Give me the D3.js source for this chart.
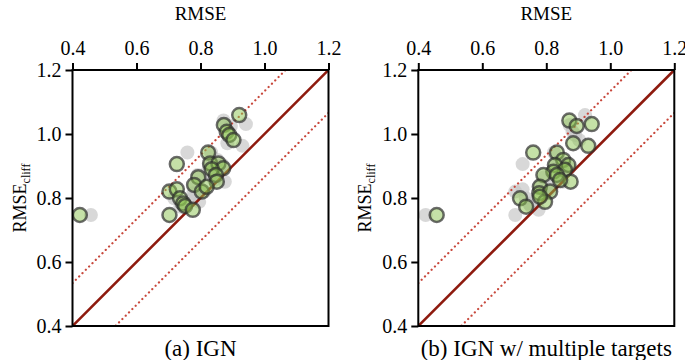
<!DOCTYPE html>
<html>
<head>
<meta charset="utf-8">
<script src="https://cdn.jsdelivr.net/npm/d3@7"></script>
<style>
  body { margin: 0; background: #fff; }
  svg, svg text { font-family: "Liberation Serif", "Times New Roman", serif; }
</style>
</head>
<body>
<script>
// RMSE vs RMSE_cliff, one [rmse, rmseCliff] pair per target
const ignPoints = [
  [0.921, 1.059], [0.873, 1.028], [0.882, 1.007], [0.890, 0.997], [0.903, 0.981],
  [0.824, 0.942], [0.726, 0.906], [0.830, 0.908], [0.856, 0.908], [0.871, 0.893],
  [0.835, 0.890], [0.848, 0.872], [0.793, 0.865], [0.780, 0.841], [0.851, 0.851],
  [0.703, 0.820], [0.726, 0.827], [0.736, 0.799], [0.746, 0.783], [0.752, 0.775],
  [0.776, 0.763], [0.703, 0.747], [0.804, 0.820], [0.819, 0.835], [0.423, 0.747]
]
const ignMultiPoints = [
  [0.872, 1.042], [0.895, 1.025], [0.942, 1.031], [0.884, 0.971], [0.931, 0.963],
  [0.759, 0.942], [0.833, 0.942], [0.853, 0.919], [0.869, 0.903], [0.827, 0.903],
  [0.858, 0.888], [0.822, 0.882], [0.876, 0.851], [0.791, 0.872], [0.833, 0.872],
  [0.843, 0.856], [0.780, 0.835], [0.778, 0.815], [0.812, 0.820], [0.796, 0.788],
  [0.718, 0.799], [0.737, 0.773], [0.780, 0.804], [0.4575, 0.747]
]
const axisTicks = [0.4, 0.6, 0.8, 1.0, 1.2]
const bandOffset = 0.134 // dotted lines: y = x +/- offset
const captions = ["(a) IGN", "(b) IGN w/ multiple targets"]

const width = 685, height = 360
const size = 256
const plotTop = 70
const plotLefts = [72.5, 418.3]
const serif = "'Liberation Serif', 'Times New Roman', serif"

const svg = d3.select("body").append("svg").attr("width", width).attr("height", height)

const x = d3.scaleLinear().domain([0.4, 1.2]).range([0, size])
const y = d3.scaleLinear().domain([0.4, 1.2]).range([size, 0])
const fmt = d3.format(".1f")

const panels = [
  {main: ignPoints, other: ignMultiPoints},
  {main: ignMultiPoints, other: ignPoints}
]

panels.forEach((p, i) => {
  const g = svg.append("g").attr("transform", "translate(" + plotLefts[i] + "," + plotTop + ")")

  g.append("defs").append("clipPath").attr("id", "clip" + i)
    .append("rect").attr("width", size).attr("height", size)
  const plot = g.append("g").attr("clip-path", "url(#clip" + i + ")")

  // background points from the other model
  plot.selectAll("circle.other").data(p.other).enter().append("circle")
    .attr("class", "other")
    .attr("cx", d => x(d[0])).attr("cy", d => y(d[1])).attr("r", 7)
    .attr("fill", "#c8c8c8").attr("fill-opacity", 0.7)

  // reference lines
  const diag = [0.4, 1.2]
  const line = d3.line().x(d => x(d[0])).y(d => y(d[1]))
  ;[bandOffset, -bandOffset].forEach(o => {
    plot.append("path")
      .attr("d", line(diag.map(v => [v, v + o])))
      .attr("stroke", "#c8483c").attr("stroke-width", 2.2)
      .attr("stroke-dasharray", "0.1,4.6").attr("stroke-linecap", "round")
      .attr("fill", "none")
  })
  plot.append("path")
    .attr("d", line(diag.map(v => [v, v])))
    .attr("stroke", "#8e1a0e").attr("stroke-width", 2.6).attr("fill", "none")

  plot.selectAll("circle.main").data(p.main).enter().append("circle")
    .attr("class", "main")
    .attr("cx", d => x(d[0])).attr("cy", d => y(d[1])).attr("r", 7)
    .attr("fill", "#8cc450").attr("fill-opacity", 0.5)
    .attr("stroke", "#2e2e2e").attr("stroke-opacity", 0.7).attr("stroke-width", 2.5)

  // frame
  g.append("rect").attr("width", size).attr("height", size)
    .attr("fill", "none").attr("stroke", "#000").attr("stroke-width", 2)

  const xAxis = g.append("g").call(d3.axisTop(x).tickValues(axisTicks).tickFormat(fmt).tickSize(7).tickPadding(8))
  const yAxis = g.append("g").call(d3.axisLeft(y).tickValues(axisTicks).tickFormat(fmt).tickSize(7).tickPadding(4))
  ;[xAxis, yAxis].forEach(a => {
    a.attr("font-family", serif).attr("font-size", 20)
    a.select(".domain").remove()
    a.selectAll("line").attr("stroke", "#000").attr("stroke-width", 2)
    a.selectAll("text").attr("fill", "#000")
  })

  g.append("text").attr("x", size / 2).attr("y", -50)
    .attr("text-anchor", "middle").attr("font-family", serif).attr("font-size", 19).text("RMSE")

  const yl = g.append("text")
    .attr("transform", "translate(-47," + (size / 2) + ") rotate(-90)")
    .attr("text-anchor", "middle").attr("font-family", serif).attr("font-size", 18)
  yl.append("tspan").text("RMSE")
  yl.append("tspan").attr("dy", 4).attr("font-size", 12).text("cliff")

  g.append("text").attr("x", size / 2).attr("y", size + 30)
    .attr("text-anchor", "middle").attr("font-family", serif).attr("font-size", 23).text(captions[i])
})
</script>
</body>
</html>
